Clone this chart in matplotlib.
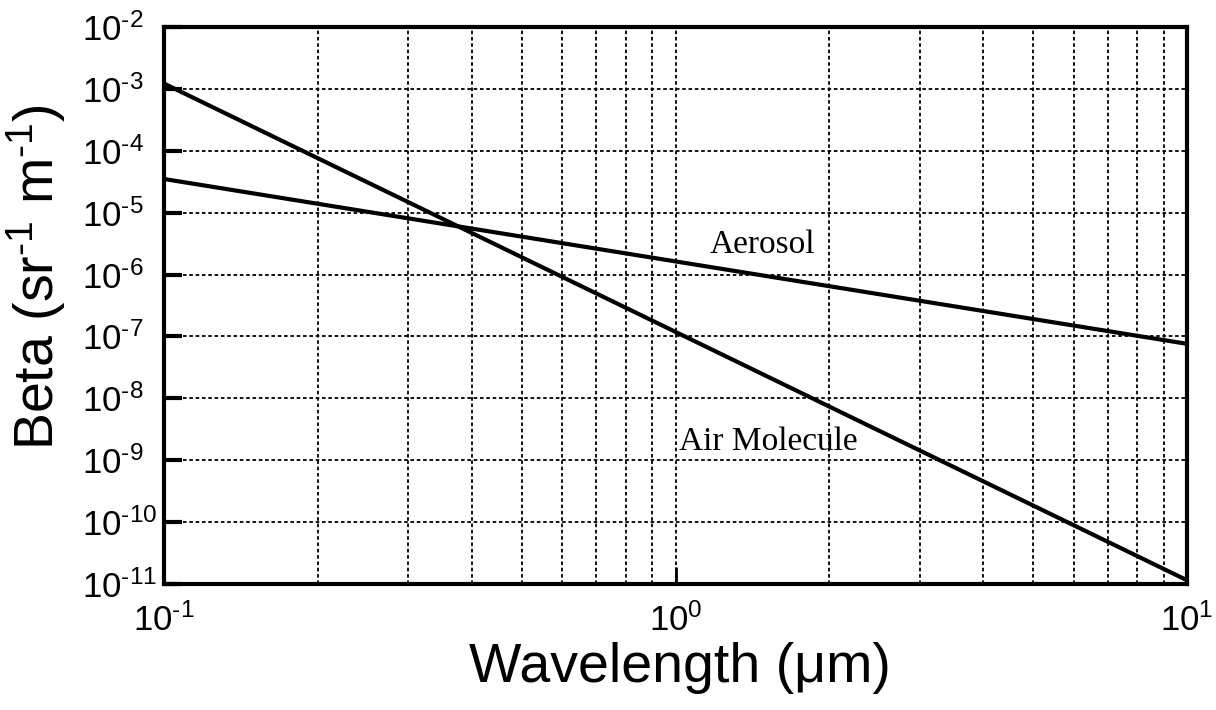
import matplotlib
matplotlib.use("Agg")
import matplotlib.pyplot as plt
from matplotlib.ticker import FixedLocator, NullFormatter

# Data
wavelength = [0.1, 10.0]
air_molecule = [1.22e-3, 1.15e-11]
aerosol = [3.5e-5, 7.6e-8]

x_ticks = [0.1, 1.0, 10.0]
x_tick_labels = [r"$\mathregular{10^{\text{-1}}}$", r"$\mathregular{10^{\text{0}}}$",
                 r"$\mathregular{10^{\text{1}}}$"]
y_exponents = list(range(-11, -1))
y_ticks = [10.0 ** e for e in y_exponents]
y_tick_labels = [r"$\mathregular{10^{\text{%d}}}$" % e for e in y_exponents]

plt.rcParams["font.family"] = ["Liberation Sans", "DejaVu Sans"]
plt.rcParams["mathtext.fontset"] = "custom"
plt.rcParams["mathtext.rm"] = "Liberation Sans"
plt.rcParams["mathtext.it"] = "Liberation Sans"
plt.rcParams["mathtext.default"] = "regular"

W, H = 1216, 710
fig = plt.figure(figsize=(W / 100, H / 100), dpi=100)
L, R, T, B = 164, 1187, 27, 584
ax = fig.add_axes([L / W, 1 - B / H, (R - L) / W, (B - T) / H])

ax.set_xscale("log")
ax.set_yscale("log")
ax.set_xlim(0.1, 10)
ax.set_ylim(1e-11, 1e-2)

ax.plot(wavelength, air_molecule, color="black", lw=3.0, solid_capstyle="butt", zorder=3)
ax.plot(wavelength, aerosol, color="black", lw=3.0, solid_capstyle="butt", zorder=3)

# grid
minor_x = [m * 10.0 ** d for d in (-1, 0) for m in range(2, 10)]
for xv in minor_x + [1.0]:
    ax.axvline(xv, color="black", lw=1.3, ls=(0, (2, 1.5)), zorder=1)
for yv in y_ticks[1:]:
    ax.axhline(yv, color="black", lw=1.3, ls=(0, (2, 1.5)), zorder=1)

ax.set_xticks(x_ticks)
ax.set_xticklabels(x_tick_labels)
ax.xaxis.set_minor_locator(FixedLocator([]))
ax.xaxis.set_minor_formatter(NullFormatter())
ax.set_yticks(y_ticks)
ax.set_yticklabels(y_tick_labels, ha="left")
ax.yaxis.set_minor_locator(FixedLocator([]))
ax.yaxis.set_minor_formatter(NullFormatter())

ax.tick_params(axis="y", which="major", direction="in", length=13, width=3,
               labelsize=25, pad=59, right=False)
ax.tick_params(axis="x", which="major", direction="in", length=12, width=2,
               labelsize=25, pad=14, top=False)

for sp in ax.spines.values():
    sp.set_linewidth(3)
    sp.set_color("black")

fig.text(680 / W, 1 - 682 / H, "Wavelength (μm)", fontsize=40,
         ha="center", va="baseline")
fig.text(36 / W, 1 - 277 / H, r"Beta (sr$^{\text{-1}}$ m$^{\text{-1}}$)", fontsize=40,
         rotation=90, ha="center", va="center")

ax.text(1.476, 2.23e-6, "Aerosol", family="Liberation Serif", fontsize=24,
        ha="center", va="baseline")
ax.text(1.517, 1.46e-9, "Air Molecule", family="Liberation Serif", fontsize=24,
        ha="center", va="baseline")

fig.savefig("out.png", dpi=100, facecolor="white")
